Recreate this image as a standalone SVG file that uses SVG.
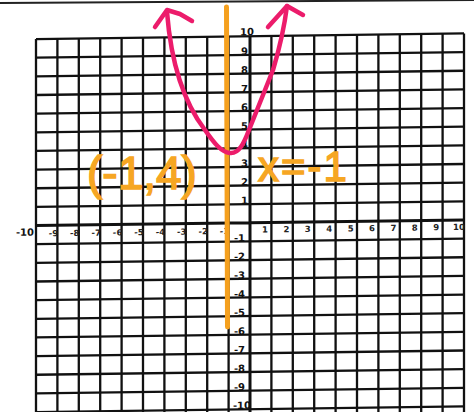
<svg xmlns="http://www.w3.org/2000/svg" width="474" height="412" viewBox="0 0 474 412">
<style>
.grid{fill:none;stroke:#111;stroke-width:2.3}
.axis{fill:none;stroke:#111;stroke-width:3}
.yl{font-family:"DejaVu Sans",sans-serif;font-weight:bold;font-size:10px;fill:#111;text-anchor:end}
.xl{font-family:"DejaVu Sans",sans-serif;font-weight:bold;font-size:8.5px;fill:#222;text-anchor:middle}
.hand{font-family:"Liberation Sans",Arial,sans-serif;font-weight:normal;fill:#F6A623;stroke:#F6A623;stroke-width:1.5}
.pink{fill:none;stroke:#EC1C6B;stroke-width:4.5;stroke-linecap:round;stroke-linejoin:round}
</style>
<rect width="474" height="412" fill="#fff"/>
<line x1="0" y1="3" x2="474" y2="0" stroke="#222" stroke-width="2"/>
<g id="grid" transform="skewY(-0.745)">
<path class="grid" d="M36,39.5V420M57.4,39.5V420M78.8,39.5V420M100.2,39.5V420M121.6,39.5V420M143,39.5V420M164.4,39.5V420M185.8,39.5V420M207.2,39.5V420M228.6,39.5V420M271.4,39.5V420M292.8,39.5V420M314.2,39.5V420M335.6,39.5V420M357,39.5V420M378.4,39.5V420M399.8,39.5V420M421.2,39.5V420M442.6,39.5V420M464,39.5V420"/>
<path class="grid" d="M36,39.5H464M36,58.15H464M36,76.8H464M36,95.45H464M36,114.1H464M36,132.75H464M36,151.4H464M36,170.05H464M36,188.7H464M36,207.35H464M36,244.65H464M36,263.3H464M36,281.95H464M36,300.6H464M36,319.25H464M36,337.9H464M36,356.55H464M36,375.2H464M36,393.85H464M36,412.5H464"/>
<path class="axis" d="M250,39.5V420M36,226H464"/>
<g id="y-labels">
<text class="yl" x="254" y="38.5">10</text>
<text class="yl" x="248" y="58">9</text>
<text class="yl" x="248" y="76.6">8</text>
<text class="yl" x="248" y="95.3">7</text>
<text class="yl" x="248" y="114">6</text>
<text class="yl" x="248" y="132.6">5</text>
<text class="yl" x="248" y="151.3">4</text>
<text class="yl" x="248" y="170">3</text>
<text class="yl" x="248" y="188.6">2</text>
<text class="yl" x="248" y="207.2">1</text>
<text class="yl" x="245" y="244.5">-1</text>
<text class="yl" x="245" y="263.2">-2</text>
<text class="yl" x="245" y="281.8">-3</text>
<text class="yl" x="245" y="300.5">-4</text>
<text class="yl" x="245" y="319.1">-5</text>
<text class="yl" x="245" y="337.8">-6</text>
<text class="yl" x="245" y="356.4">-7</text>
<text class="yl" x="245" y="375.1">-8</text>
<text class="yl" x="245" y="393.7">-9</text>
<text class="yl" x="251" y="412">-10</text>
</g>
<g id="x-labels">
<text class="yl" x="34" y="236" font-size="10.5">-10</text>
<text class="xl" x="53.4" y="237">-9</text>
<text class="xl" x="74.8" y="237">-8</text>
<text class="xl" x="96.2" y="237">-7</text>
<text class="xl" x="117.6" y="237">-6</text>
<text class="xl" x="139" y="237">-5</text>
<text class="xl" x="160.4" y="237">-4</text>
<text class="xl" x="181.8" y="237">-3</text>
<text class="xl" x="203.2" y="237">-2</text>
<text class="xl" x="224.6" y="237">-1</text>
<text class="xl" x="265" y="236">1</text>
<text class="xl" x="286.4" y="236">2</text>
<text class="xl" x="307.8" y="236">3</text>
<text class="xl" x="329.2" y="236">4</text>
<text class="xl" x="350.6" y="236">5</text>
<text class="xl" x="372" y="236">6</text>
<text class="xl" x="393.4" y="236">7</text>
<text class="xl" x="414.8" y="236">8</text>
<text class="xl" x="436.2" y="236">9</text>
<text class="xl" x="459" y="236">10</text>
</g>
</g>
<g id="line-x-eq-neg1">
<line x1="226.5" y1="7" x2="227.5" y2="327" stroke="#F5A01E" stroke-width="5" stroke-linecap="round"/>
</g>
<g id="parabola">
<path class="pink" d="M167,12 C170,50 178,95 205,130 C214,143 221,152 230,153 C239,154 244,143 249,130 C259,105 269,80 273,70 C279,50 284,30 287,6"/>
<path class="pink" d="M155,27 L167,10 L180,14 L192,21"/>
<path class="pink" d="M268,27 L287,6 L303,15"/>
</g>
<g id="labels">
<text class="hand" x="87" y="189" font-size="46">(-1,4)</text>
<text class="hand" x="258" y="181" font-size="42" letter-spacing="2">x=-1</text>
</g>
</svg>
